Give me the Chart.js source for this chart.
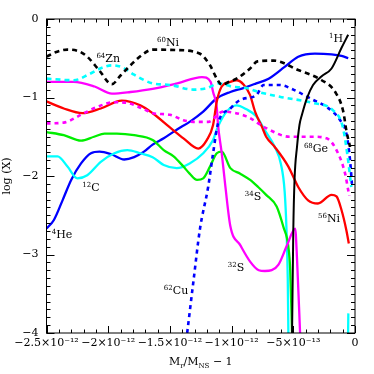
<!DOCTYPE html>
<html>
<head>
<meta charset="utf-8">
<script src="https://cdn.jsdelivr.net/npm/chart.js@4.4.1/dist/chart.umd.min.js"></script>
<style>
  html, body { margin: 0; padding: 0; background: #fff; }
  #wrap { width: 374px; height: 374px; }
</style>
</head>
<body>
<div id="wrap"><canvas id="chart" width="374" height="374"></canvas></div>
<script>
// x values in units of 1e-12 (M_r/M_NS - 1), y = log X

// 60Ni (black dashed)
const ni60X = [-2.5, -2.42, -2.33, -2.24, -2.17, -2.075, -1.97, -1.9, -1.82, -1.72, -1.64, -1.45, -1.26, -1.175, -1.12, -1.08, -1.02, -0.96, -0.85, -0.79, -0.66, -0.46, -0.27, -0.16, -0.095, -0.07, -0.04];
const ni60Y = [-0.48, -0.42, -0.39, -0.41, -0.48, -0.65, -0.83, -0.72, -0.59, -0.45, -0.39, -0.395, -0.44, -0.59, -0.76, -0.84, -0.80, -0.76, -0.63, -0.54, -0.53, -0.65, -0.78, -0.93, -1.18, -1.42, -1.63];

// 64Zn (cyan dashed)
const zn64X = [-2.5, -2.28, -2.15, -2.05, -1.97, -1.88, -1.79, -1.64, -1.5, -1.31, -1.2, -1.1, -1.0, -0.88, -0.78, -0.61, -0.34, -0.18, -0.1, -0.06, -0.03];
const zn64Y = [-0.76, -0.78, -0.70, -0.62, -0.59, -0.62, -0.71, -0.82, -0.84, -0.90, -0.88, -0.82, -0.86, -0.88, -0.93, -0.99, -1.07, -1.16, -1.37, -1.75, -2.14];

// 32S (magenta solid)
const s32X = [-2.5, -2.28, -2.11, -1.97, -1.82, -1.64, -1.44, -1.24, -1.17, -1.15, -1.12, -1.11, -1.08, -1.05, -1.01, -0.93, -0.85, -0.78, -0.73, -0.675, -0.62, -0.55, -0.485, -0.47, -0.445];
const s32Y = [-0.80, -0.80, -0.86, -0.95, -0.93, -0.89, -0.82, -0.74, -0.80, -0.93, -1.13, -1.35, -1.71, -2.14, -2.64, -2.88, -3.09, -3.20, -3.21, -3.20, -3.13, -2.88, -2.67, -3.05, -4.0];

// 56Ni (red solid)
const ni56X = [-2.5, -2.36, -2.21, -2.06, -1.89, -1.74, -1.64, -1.5, -1.39, -1.27, -1.2, -1.15, -1.12, -1.08, -1.01, -0.96, -0.9, -0.85, -0.81, -0.755, -0.72, -0.65, -0.54, -0.46, -0.38, -0.3, -0.19, -0.15, -0.11, -0.07, -0.05];
const ni56Y = [-1.05, -1.14, -1.20, -1.14, -1.04, -1.10, -1.20, -1.38, -1.52, -1.65, -1.54, -1.35, -1.05, -0.86, -0.80, -0.78, -0.84, -0.97, -1.18, -1.37, -1.50, -1.63, -1.88, -2.14, -2.31, -2.35, -2.24, -2.26, -2.43, -2.69, -2.86];

// 68Ge (magenta dashed)
const ge68X = [-2.5, -2.36, -2.22, -2.09, -1.95, -1.845, -1.71, -1.64, -1.5, -1.39, -1.31, -1.19, -1.07, -0.88, -0.72, -0.53, -0.34, -0.23, -0.15, -0.08, -0.055, -0.045];
const ge68Y = [-1.33, -1.32, -1.22, -1.12, -1.06, -1.07, -1.15, -1.20, -1.22, -1.29, -1.31, -1.31, -1.18, -1.24, -1.39, -1.50, -1.50, -1.52, -1.67, -1.97, -2.18, -2.25];

// 34S (green solid)
const s34X = [-2.5, -2.36, -2.22, -2.115, -2.03, -1.93, -1.79, -1.64, -1.55, -1.47, -1.39, -1.34, -1.28, -1.23, -1.175, -1.12, -1.08, -1.01, -0.93, -0.85, -0.785, -0.72, -0.635, -0.58, -0.54, -0.525, -0.51];
const s34Y = [-1.44, -1.48, -1.55, -1.50, -1.46, -1.46, -1.48, -1.54, -1.67, -1.75, -1.88, -1.97, -2.05, -2.03, -1.88, -1.71, -1.69, -1.90, -1.97, -2.05, -2.14, -2.24, -2.39, -2.65, -2.90, -3.20, -4.0];

// 12C (cyan solid), with a separate short piece near the right edge
const c12X = [-2.5, -2.41, -2.33, -2.25, -2.17, -2.06, -1.95, -1.845, -1.74, -1.64, -1.55, -1.445, -1.34, -1.23, -1.15, -1.11, -1.04, -0.96, -0.88, -0.8, -0.73, -0.65, -0.6, -0.57, -0.555, -0.545, -0.54, -0.3, -0.056, -0.054];
const c12Y = [-1.75, -1.75, -1.88, -2.03, -1.99, -1.82, -1.71, -1.67, -1.71, -1.76, -1.86, -1.90, -1.84, -1.71, -1.54, -1.37, -1.18, -1.10, -1.15, -1.24, -1.42, -1.63, -1.85, -2.20, -2.69, -3.30, -4.0, null, -4.0, -3.75];

// 4He (blue solid)
const he4X = [-2.5, -2.44, -2.37, -2.3, -2.22, -2.14, -2.07, -1.98, -1.87, -1.79, -1.71, -1.64, -1.55, -1.445, -1.34, -1.23, -1.12, -1.01, -0.905, -0.8, -0.7, -0.57, -0.46, -0.325, -0.19, -0.11, -0.055];
const he4Y = [-2.67, -2.56, -2.31, -2.05, -1.84, -1.71, -1.69, -1.72, -1.79, -1.76, -1.69, -1.60, -1.52, -1.41, -1.31, -1.18, -1.01, -0.93, -0.88, -0.82, -0.76, -0.61, -0.48, -0.44, -0.45, -0.47, -0.50];

// 62Cu (blue dotted)
const cu62X = [-1.36, -1.31, -1.256, -1.19, -1.15, -1.11, -1.01, -0.93, -0.8, -0.74, -0.61, -0.5, -0.34, -0.23, -0.12, -0.07, -0.04, -0.025];
const cu62Y = [-4.0, -3.35, -2.67, -2.14, -1.71, -1.33, -1.14, -1.03, -0.97, -0.84, -0.84, -0.90, -1.03, -1.12, -1.29, -1.46, -1.80, -2.10];

// 1H (black solid)
const h1X = [-0.51, -0.5, -0.49, -0.47, -0.45, -0.43, -0.39, -0.34, -0.27, -0.19, -0.11, -0.055];
const h1Y = [-4.0, -2.69, -2.05, -1.63, -1.35, -1.22, -1.01, -0.84, -0.73, -0.63, -0.37, -0.20];

// tick labels
const xTickValues = [-2.5, -2, -1.5, -1, -0.5, 0];
const xTickLabels = ['\u22122.5\u00d710\u207b\u00b9\u00b2', '\u22122\u00d710\u207b\u00b9\u00b2', '\u22121.5\u00d710\u207b\u00b9\u00b2', '\u22121\u00d710\u207b\u00b9\u00b2', '\u22125\u00d710\u207b\u00b9\u00b3', '0'];
const yTickValues = [-4, -3, -2, -1, 0];
const yTickLabels = ['\u22124', '\u22123', '\u22122', '\u22121', '0'];

// isotope labels (mass number, symbol, position in data coords)
const isoMass = ['64', '60', '1', '68', '12', '34', '56', '4', '32', '62'];
const isoName = ['Zn', 'Ni', 'H', 'Ge', 'C', 'S', 'Ni', 'He', 'S', 'Cu'];
const isoX = [-2.0, -1.515, -0.154, -0.316, -2.14, -0.827, -0.21, -2.374, -0.964, -1.45];
const isoY = [-0.50, -0.29, -0.24, -1.64, -2.14, -2.25, -2.535, -2.74, -3.16, -3.45];

const SERIF = '"DejaVu Serif", "Liberation Serif", serif';

function pts(xs, ys) {
  return xs.map((x, i) => ({ x: x, y: ys[i] }));
}

function line(data, color, dash, width) {
  return {
    data: data,
    borderColor: color,
    borderWidth: width || 2.3,
    borderDash: dash || [],
    borderCapStyle: 'butt',
    pointRadius: 0,
    cubicInterpolationMode: 'monotone',
    spanGaps: false,
    fill: false
  };
}

// frame with inward ticks on all four sides
const frameTicks = {
  id: 'frameTicks',
  afterDraw(chart) {
    const ctx = chart.ctx;
    const a = chart.chartArea;
    const xs = chart.scales.x;
    const ys = chart.scales.y;
    ctx.save();
    ctx.strokeStyle = '#000';
    ctx.lineWidth = 1;
    ctx.strokeRect(a.left, a.top, a.right - a.left, a.bottom - a.top);
    ctx.beginPath();
    for (let i = 0; i <= 25; i++) {
      const v = -2.5 + i * 0.1;
      const px = Math.round(xs.getPixelForValue(v)) + 0.5;
      const len = i % 5 === 0 ? 7 : 3.5;
      ctx.moveTo(px, a.bottom); ctx.lineTo(px, a.bottom - len);
      ctx.moveTo(px, a.top); ctx.lineTo(px, a.top + len);
    }
    for (let i = 0; i <= 40; i++) {
      const v = -4 + i * 0.1;
      const py = Math.round(ys.getPixelForValue(v)) + 0.5;
      const len = i % 10 === 0 ? 8 : 4;
      ctx.moveTo(a.left, py); ctx.lineTo(a.left + len, py);
      ctx.moveTo(a.right, py); ctx.lineTo(a.right - len, py);
    }
    ctx.stroke();

    // isotope labels
    ctx.fillStyle = '#000';
    ctx.textBaseline = 'alphabetic';
    ctx.textAlign = 'left';
    isoName.forEach((name, i) => {
      const cx = xs.getPixelForValue(isoX[i]);
      const cy = ys.getPixelForValue(isoY[i]);
      ctx.font = '7px ' + SERIF;
      const w1 = ctx.measureText(isoMass[i]).width;
      ctx.font = '11px ' + SERIF;
      const w2 = ctx.measureText(name).width;
      const x0 = cx - (w1 + w2) / 2;
      ctx.font = '7px ' + SERIF;
      ctx.fillText(isoMass[i], x0, cy);
      ctx.font = '11px ' + SERIF;
      ctx.fillText(name, x0 + w1, cy + 4);
    });

    // x axis title: M_r/M_NS - 1
    const parts = [['M', 11, 0], ['r', 7, 3], ['/M', 11, 0], ['NS', 7, 3], [' \u2212 1', 11, 0]];
    let total = 0;
    parts.forEach(p => { ctx.font = p[1] + 'px ' + SERIF; total += ctx.measureText(p[0]).width; });
    let tx = (a.left + a.right) / 2 - total / 2;
    const base = 365;
    parts.forEach(p => {
      ctx.font = p[1] + 'px ' + SERIF;
      ctx.fillText(p[0], tx, base + p[2]);
      tx += ctx.measureText(p[0]).width;
    });
    ctx.restore();
  }
};

new Chart(document.getElementById('chart'), {
  type: 'line',
  data: {
    datasets: [
      line(pts(h1X, h1Y), '#000000', [], 2),
      line(pts(ni60X, ni60Y), '#000000', [5, 4], 2.6),
      line(pts(zn64X, zn64Y), '#00ffff', [5, 4], 2.6),
      line(pts(ge68X, ge68Y), '#ff00ff', [4, 4], 2.6),
      line(pts(cu62X, cu62Y), '#0000ff', [4, 4], 2.6),
      line(pts(ni56X, ni56Y), '#ff0000'),
      line(pts(s32X, s32Y), '#ff00ff'),
      line(pts(s34X, s34Y), '#00ee00'),
      line(pts(c12X, c12Y), '#00ffff'),
      line(pts(he4X, he4Y), '#0000ff')
    ]
  },
  options: {
    responsive: false,
    animation: false,
    devicePixelRatio: 1,
    layout: { padding: { top: 19, right: 19, left: 0, bottom: 0 } },
    plugins: { legend: { display: false }, tooltip: { enabled: false } },
    scales: {
      x: {
        type: 'linear',
        min: -2.5,
        max: 0,
        afterBuildTicks: s => { s.ticks = xTickValues.map(v => ({ value: v })); },
        afterFit: s => { s.height = 41; },
        grid: { display: false, drawTicks: false },
        border: { display: false },
        ticks: {
          autoSkip: false,
          maxRotation: 0,
          padding: 4,
          color: '#000',
          font: { family: SERIF, size: 11 },
          callback: (v) => xTickLabels[xTickValues.indexOf(v)]
        }
      },
      y: {
        type: 'linear',
        min: -4,
        max: 0,
        afterBuildTicks: s => { s.ticks = yTickValues.map(v => ({ value: v })); },
        afterFit: s => { s.width = 46.5; },
        grid: { display: false, drawTicks: false },
        border: { display: false },
        ticks: {
          padding: 8,
          color: '#000',
          font: { family: SERIF, size: 11 },
          callback: (v) => yTickLabels[yTickValues.indexOf(v)]
        },
        title: {
          display: true,
          text: 'log (X)',
          color: '#000',
          font: { family: SERIF, size: 11 },
          padding: { top: 1, bottom: 0 }
        }
      }
    }
  },
  plugins: [frameTicks]
});
</script>
</body>
</html>
